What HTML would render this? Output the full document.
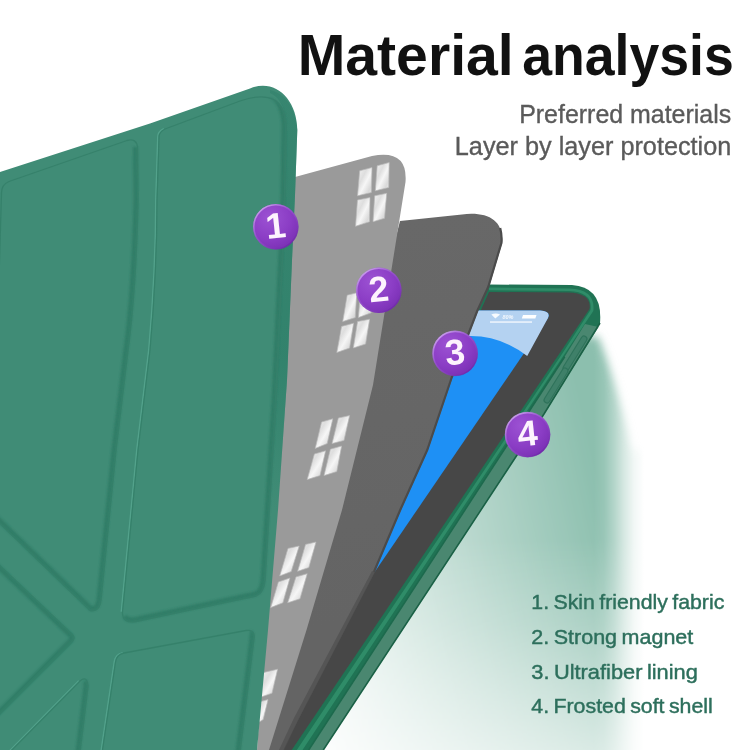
<!DOCTYPE html>
<html lang="en">
<head>
<meta charset="utf-8">
<title>Material analysis</title>
<style>
html,body{margin:0;padding:0;background:#fff;}
body{width:750px;height:750px;overflow:hidden;position:relative;font-family:"Liberation Sans",sans-serif;}
svg{position:absolute;left:0;top:0;display:block;}
text{font-family:"Liberation Sans",sans-serif;}
</style>
</head>
<body>
<svg width="750" height="750" viewBox="0 0 750 750">
<defs>
  <linearGradient id="glow" gradientUnits="userSpaceOnUse" x1="248" y1="516" x2="588" y2="440">
    <stop offset="0" stop-color="#ffffff"/>
    <stop offset="1" stop-color="#8cbfae"/>
  </linearGradient>
  <linearGradient id="vFade" gradientUnits="userSpaceOnUse" x1="0" y1="540" x2="0" y2="750">
    <stop offset="0" stop-color="#000" stop-opacity="0"/>
    <stop offset="0.4" stop-color="#000" stop-opacity="0.2"/>
    <stop offset="0.76" stop-color="#000" stop-opacity="0.44"/>
    <stop offset="1" stop-color="#000" stop-opacity="0.6"/>
  </linearGradient>
  <linearGradient id="edgeFade" gradientUnits="userSpaceOnUse" x1="594" y1="0" x2="644" y2="0">
    <stop offset="0" stop-color="#fff" stop-opacity="1"/>
    <stop offset="0.2" stop-color="#fff" stop-opacity="0.9"/>
    <stop offset="0.4" stop-color="#fff" stop-opacity="0.66"/>
    <stop offset="0.6" stop-color="#fff" stop-opacity="0.36"/>
    <stop offset="0.8" stop-color="#fff" stop-opacity="0.12"/>
    <stop offset="1" stop-color="#fff" stop-opacity="0"/>
  </linearGradient>
  <mask id="edgeMask" maskUnits="userSpaceOnUse" x="0" y="0" width="750" height="800"><rect x="0" y="0" width="750" height="800" fill="url(#edgeFade)"/><rect x="0" y="0" width="750" height="800" fill="url(#vFade)"/></mask>
  <linearGradient id="bandfade" gradientUnits="userSpaceOnUse" x1="0" y1="120" x2="0" y2="510">
    <stop offset="0" stop-color="#2f806a" stop-opacity="0.55"/>
    <stop offset="0.6" stop-color="#2f806a" stop-opacity="0.8"/>
    <stop offset="1" stop-color="#2f806a" stop-opacity="0"/>
  </linearGradient>
  <linearGradient id="mag" x1="0" y1="0" x2="1" y2="1">
    <stop offset="0" stop-color="#f3f3f3"/>
    <stop offset="0.35" stop-color="#dedede"/>
    <stop offset="0.55" stop-color="#f6f6f6"/>
    <stop offset="0.8" stop-color="#d9d9d9"/>
    <stop offset="1" stop-color="#ececec"/>
  </linearGradient>
  <filter id="blur8" x="-20%" y="-20%" width="140%" height="140%"><feGaussianBlur stdDeviation="4"/></filter>
  <radialGradient id="ball" cx="0.36" cy="0.3" r="0.85">
    <stop offset="0" stop-color="#9c52d3"/>
    <stop offset="0.55" stop-color="#8b3dc5"/>
    <stop offset="1" stop-color="#742bae"/>
  </radialGradient>
  <linearGradient id="rim" x1="0.1" y1="0.05" x2="0.8" y2="0.9">
    <stop offset="0" stop-color="#d6b4f2" stop-opacity="0.95"/>
    <stop offset="0.45" stop-color="#b07be0" stop-opacity="0.3"/>
    <stop offset="1" stop-color="#6a25a3" stop-opacity="0.5"/>
  </linearGradient>
  <linearGradient id="dg" gradientUnits="userSpaceOnUse" x1="400" y1="220" x2="470" y2="600">
    <stop offset="0" stop-color="#686868"/>
    <stop offset="1" stop-color="#646464"/>
  </linearGradient>
  <linearGradient id="scr" gradientUnits="userSpaceOnUse" x1="480" y1="310" x2="400" y2="560">
    <stop offset="0" stop-color="#2f93f4"/>
    <stop offset="1" stop-color="#1e86ee"/>
  </linearGradient>
</defs>

<!-- green glow behind the shell -->
<g id="glowlayer" mask="url(#edgeMask)">
  <path d="M540,340 L598,336 Q614,372 634,450 L670,450 L670,790 L260,790 Z" fill="url(#glow)" filter="url(#blur8)"/>
</g>

<!-- layer 4 : frosted shell + tablet -->
<g id="shell">
  <!-- outer frame -->
  <path d="M489,284.5 L572,285 Q603,287 600,323 L544,414 L323.3,750 L283,750 Z" fill="#207354"/>
  <!-- translucent side wall -->
  <path d="M598.5,327 L544,414 L323.3,750 L308.7,750 L564.7,356.7 L585,324 Z" fill="#4a8770"/>
  <path d="M564.7,356.7 L308.7,750" stroke="#1d6a4d" stroke-width="1.6" fill="none"/>
  <path d="M600,323 L544,414 L323.3,750" stroke="#1b6146" stroke-width="1.6" fill="none"/>
  <!-- buttons on side wall -->
  <path d="M584,339 L566,368" stroke="#2f735b" stroke-width="7" stroke-linecap="round" fill="none"/>
  <path d="M584,339 L566,368" stroke="#3f8069" stroke-width="4.6" stroke-linecap="round" fill="none"/>
  <path d="M565,371 L547,400" stroke="#2f735b" stroke-width="7" stroke-linecap="round" fill="none"/>
  <path d="M565,371 L547,400" stroke="#3f8069" stroke-width="4.6" stroke-linecap="round" fill="none"/>
  <!-- inner lip ridge -->
  <path d="M489,287.6 L569.5,288.4 Q596,289.5 593.3,311 L562.6,357 L302.5,750 L296.8,750 L560,357 L590.5,310 Q593,292 569,291 L489,290.2 Z" fill="#2f8c68"/>
  <!-- bezel -->
  <path d="M489,292 L568,292.5 Q592,293 589.5,309 L291.7,750 L283,750 Z" fill="#474747"/>
  <!-- screen -->
  <g>
    <path id="scrp" d="M470,310.5 L540,310.5 Q551,311 548,318 L374.7,572 Z" fill="#1e90f5"/>
    <path d="M470,310.5 L540,310.5 Q551,311 548,318 L527.2,356 Q500,335 468,336 Z" fill="#b4d2f1"/>
    <rect x="490" y="321.4" width="42" height="1.3" fill="#fff" opacity="0.9"/>
    <path d="M523,315 L536.5,315 L535.3,318.4 L521.8,318.4 Z" fill="#fff"/>
    <text x="502.5" y="318.6" font-size="5.5" font-style="italic" font-weight="700" fill="#fff" opacity="0.85">80%</text>
    <path d="M491.3,314.6 q4.4,-2 8.8,0 l-4.8,4 z" fill="#fff" opacity="0.9"/>
  </g>
</g>

<!-- layer 3 : ultrafiber lining -->
<g id="lining">
  <path d="M400,221 L462,214.4 C488,211.5 503.5,220 502.2,243 L489,287 L478,311 L452.5,377.5 L428,450 L401,510 L374.7,572 L298,720 L283.5,750 L266,750 Z" fill="url(#dg)"/>
</g>

<g><path d="M501,228 Q503,236 502.2,243 L489,287 L478,311 L452.5,377.5 L428,450 L401,510 L374.7,572 L298,720 L284,750" fill="none" stroke="#4b4b4b" stroke-width="2.2" transform="translate(-0.8,0)"/></g>

<path d="M374.7,572 L298,720 L283.5,750 L279,750 L294,718 L372,571 Z" fill="#555555"/>

<!-- layer 2 : magnets -->
<g id="magnet">
  <path d="M295,177 L372,156 Q408,149 405.5,182 L393,260 L373,385 L342,510 L306.5,630 L269,750 L257,750 Z" fill="#9a9a9a"/>
  <g fill="url(#mag)" stroke="#b9b9b9" stroke-width="0.7">
    <path d="M359.7,170.8 L372,167.5 L371.3,192.5 L357.5,195.8 Z"/>
    <path d="M377.2,165.8 L389.2,162.5 L388.7,187.5 L375.3,190.8 Z"/>
    <path d="M357.5,200 L370,197.5 L369.5,221.7 L355.5,226.3 Z"/>
    <path d="M374.7,195.8 L386.7,193.3 L384.5,218.3 L373,221.7 Z"/>

    <path d="M347.2,295.2 L356.8,292.8 L355.2,317.6 L342.7,321.6 Z"/>
    <path d="M360.5,291.5 L373,288.5 L371.2,312.8 L358.4,317.6 Z"/>
    <path d="M341.6,326.4 L353.6,323.2 L349.6,348 L336.8,352.5 Z"/>
    <path d="M357.6,321.6 L369.6,319.2 L365.6,344 L353.3,348 Z"/>

    <path d="M321.6,422 L332.8,418.8 L327.2,443.6 L315.2,448.4 Z"/>
    <path d="M338.4,418 L349.6,415.6 L344,440.4 L332,443.6 Z"/>
    <path d="M314.4,454 L325.6,450.8 L320,475.6 L307.2,479.6 Z"/>
    <path d="M330.4,449.2 L341.6,446 L336.8,471.6 L324,475.6 Z"/>

    <path d="M288,548.4 L299.2,546 L291.2,571.6 L279.7,575.9 Z"/>
    <path d="M305.6,544.4 L316,542 L308.8,567.6 L297.6,571.3 Z"/>
    <path d="M278.4,582 L289.9,578 L282.9,602.8 L270.7,607.6 Z"/>
    <path d="M296,576.9 L307.2,573.7 L300,598.8 L287.7,602.8 Z"/>

    <path d="M262,672.9 L277.6,669.2 L272,693.2 L261,697 Z"/>
    <path d="M259,702 L268,699.6 L263.2,719.6 L256,724 Z"/>
  </g>
</g>

<!-- layer 1 : fabric cover -->
<g id="cover">
  <defs>
    <clipPath id="cpL"><path d="M1.5,193 Q1.5,184.5 9,181.5 L127,140.5 Q136.5,138 137.5,147 L138,200 Q136,290 128,350 L116,450 L101,600 Q99.5,612.5 90,610.5 L-8,516 Z"/></clipPath>
    <clipPath id="cpRT"><path d="M159,137 Q159,132 165,129 L240,101 Q284,86 286,125 L285,195 L283,250 L276,400 L265,580 Q264,593 256,596 L136,621.5 Q122,624 122.5,612 L138,450 L150,350 Q157,270 157,200 Z"/></clipPath>
    <clipPath id="cpRB"><path d="M101,760 L115.5,662 Q116.5,654.5 124,653 L246,630.5 Q255,629 254,638 L239,760 Z"/></clipPath>
    <clipPath id="cpT"><path d="M-8,558 L72,634 Q76,638 72,642 L-8,722 Z"/></clipPath>
    <clipPath id="cpBL"><path d="M2,760 L80,681 Q87,675 88,686 L79,760 Z"/></clipPath>
    <filter id="soft" x="-10%" y="-10%" width="120%" height="120%"><feGaussianBlur stdDeviation="0.9"/></filter>
  </defs>
  <path id="coverp" d="M0,172 L150,123.5 L250,88.5 C274,78 297,98 297.3,130 L295,195 L292,260 L287,380 L278,510 L268,630 L257,750 L0,750 Z" fill="#408c76"/>
  <!-- darker right border strip (upper part) -->
  <path d="M270,90 C285,93 296,108 297.3,130 L295,195 L292,260 L287,380 L278,510 L270,510 L276,400 L283,250 L285,195 L286,125 Q285,100 270,93 Z" fill="url(#bandfade)"/>
  <!-- shaded panel slopes -->
  <g fill="none" stroke="#2f7a65" stroke-width="9" stroke-linejoin="round" filter="url(#soft)" opacity="0.85">
    <g clip-path="url(#cpL)"><path d="M137.5,147 L138,200 Q136,290 128,350 L116,450 L101,600 Q99.5,612.5 90,610.5 L-8,516"/></g>
    <g clip-path="url(#cpRT)"><path d="M270,93 Q285,100 286,125 L285,195 L283,250 L276,400 L265,580 Q264,593 256,596 L136,621.5 Q126,623 123,617"/></g>
    <g clip-path="url(#cpRB)"><path d="M250,630 Q255,630 254,638 L239,760"/></g>
    <g clip-path="url(#cpT)"><path d="M-8,558 L72,634 Q76,638 72,642 L-8,722"/></g>
    <g clip-path="url(#cpBL)"><path d="M86,680 Q88,682 88,686 L79,760"/></g>
  </g>
  <!-- highlights -->
  <g fill="none" stroke="#55a48e" stroke-width="1.5" stroke-linejoin="round" transform="translate(-1.2,-0.3)" opacity="0.9">
    <path d="M122.5,612 L138,450 L150,350 Q157,270 157,200 L159,137 Q159,132 165,129"/><path d="M101,760 L115.5,662 Q116.5,654.5 124,653"/><path d="M2,760 L80,681"/>
  </g>
  <!-- thin outline -->
  <g fill="none" stroke="#35806a" stroke-width="1.3" stroke-linejoin="round" opacity="0.9">
    <path d="M1.5,193 Q1.5,184.5 9,181.5 L127,140.5 Q136.5,138 137.5,147 L138,200 Q136,290 128,350 L116,450 L101,600 Q99.5,612.5 90,610.5 L-8,516 Z"/><path d="M159,137 Q159,132 165,129 L240,101 Q284,86 286,125 L285,195 L283,250 L276,400 L265,580 Q264,593 256,596 L136,621.5 Q122,624 122.5,612 L138,450 L150,350 Q157,270 157,200 Z"/><path d="M101,760 L115.5,662 Q116.5,654.5 124,653 L246,630.5 Q255,629 254,638 L239,760 Z"/><path d="M-8,558 L72,634 Q76,638 72,642 L-8,722 Z"/><path d="M2,760 L80,681 Q87,675 88,686 L79,760 Z"/>
  </g>
</g>

<!-- text -->
<text y="75" font-size="57" font-weight="700" fill="#111"><tspan x="297.7" textLength="216" lengthAdjust="spacingAndGlyphs">Material</tspan><tspan> </tspan><tspan x="522.3" textLength="211.5" lengthAdjust="spacingAndGlyphs">analysis</tspan></text>
<g font-size="25" fill="#5a5a5a" stroke="#5a5a5a" stroke-width="0.35">
<text x="519.2" y="123.2" textLength="212" lengthAdjust="spacingAndGlyphs">Preferred materials</text>
<text x="454.8" y="155.2" textLength="276.5" lengthAdjust="spacingAndGlyphs">Layer by layer protection</text>
</g>
<g font-size="21" fill="#2d6f5c" stroke="#2d6f5c" stroke-width="0.45" word-spacing="-1.5">
<text x="531.3" y="608.9" textLength="193" lengthAdjust="spacingAndGlyphs">1. Skin friendly fabric</text>
<text x="531.3" y="643.5" textLength="162" lengthAdjust="spacingAndGlyphs">2. Strong magnet</text>
<text x="531.3" y="678.7" textLength="166.5" lengthAdjust="spacingAndGlyphs">3. Ultrafiber lining</text>
<text x="531.3" y="713.4" textLength="181.5" lengthAdjust="spacingAndGlyphs">4. Frosted soft shell</text>
</g>

<!-- number balls -->
<g id="balls" font-size="36" font-weight="700" fill="#fdf3fd" text-anchor="middle">
  <circle cx="275.8" cy="226.8" r="22.7" fill="url(#ball)"/><circle cx="275.8" cy="226.8" r="22" fill="none" stroke="url(#rim)" stroke-width="1.6"/><text x="275.8" y="238.0" transform="rotate(-6 275.8 226.8)">1</text>
  <circle cx="378.8" cy="290.2" r="22.7" fill="url(#ball)"/><circle cx="378.8" cy="290.2" r="22" fill="none" stroke="url(#rim)" stroke-width="1.6"/><text x="378.8" y="301.4" transform="rotate(-6 378.8 290.2)">2</text>
  <circle cx="455.1" cy="353.4" r="22.7" fill="url(#ball)"/><circle cx="455.1" cy="353.4" r="22" fill="none" stroke="url(#rim)" stroke-width="1.6"/><text x="455.1" y="364.6" transform="rotate(-6 455.1 353.4)">3</text>
  <circle cx="527.6" cy="434.6" r="22.7" fill="url(#ball)"/><circle cx="527.6" cy="434.6" r="22" fill="none" stroke="url(#rim)" stroke-width="1.6"/><text x="527.6" y="445.8" transform="rotate(-6 527.6 434.6)">4</text>
</g>
</svg>
</body>
</html>
